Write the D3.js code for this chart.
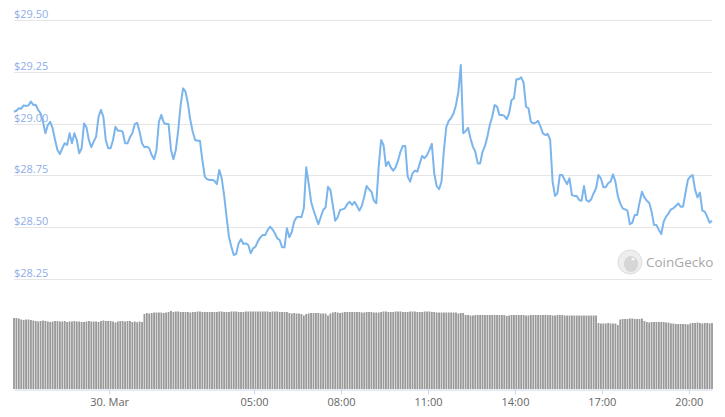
<!DOCTYPE html>
<html>
<head>
<meta charset="utf-8">
<script src="https://cdn.jsdelivr.net/npm/d3@7"></script>
<style>
  body { margin: 0; background: #fff; }
  svg text { font-family: "Open Sans", sans-serif; }
</style>
</head>
<body>
<div id="chart"></div>
<script>
// 5-minute samples
var startTime = new Date(2020, 2, 29, 20, 43);
var stepMinutes = 5;

var prices = [
  29.057, 29.062, 29.074, 29.072, 29.088, 29.085, 29.088, 29.106, 29.090, 29.091,
  29.066, 29.050, 29.009, 28.953, 28.993, 29.009, 28.977, 28.921, 28.873, 28.853,
  28.881, 28.905, 28.897, 28.953, 28.905, 28.953, 28.921, 28.857, 28.881, 29.001,
  28.982, 28.921, 28.886, 28.913, 28.937, 29.033, 29.066, 29.033, 28.921, 28.881,
  28.881, 28.921, 28.985, 28.966, 28.966, 28.961, 28.905, 28.905, 28.934, 28.953,
  28.997, 29.004, 28.961, 28.905, 28.886, 28.889, 28.881, 28.848, 28.828, 28.873,
  29.009, 29.042, 29.004, 28.998, 28.998, 28.873, 28.828, 28.873, 28.969, 29.090,
  29.170, 29.154, 29.098, 29.017, 28.961, 28.921, 28.917, 28.917, 28.824, 28.744,
  28.731, 28.728, 28.728, 28.724, 28.708, 28.776, 28.736, 28.655, 28.551, 28.454,
  28.406, 28.366, 28.371, 28.422, 28.442, 28.419, 28.422, 28.414, 28.374, 28.398,
  28.406, 28.433, 28.451, 28.462, 28.462, 28.486, 28.502, 28.490, 28.471, 28.446,
  28.438, 28.403, 28.403, 28.495, 28.451, 28.477, 28.527, 28.548, 28.551, 28.548,
  28.591, 28.789, 28.712, 28.623, 28.583, 28.548, 28.515, 28.548, 28.583, 28.596,
  28.695, 28.680, 28.607, 28.531, 28.548, 28.583, 28.586, 28.591, 28.612, 28.623,
  28.607, 28.623, 28.602, 28.580, 28.602, 28.647, 28.699, 28.683, 28.671, 28.628,
  28.615, 28.792, 28.921, 28.897, 28.795, 28.816, 28.789, 28.773, 28.789, 28.821,
  28.864, 28.892, 28.892, 28.744, 28.720, 28.760, 28.773, 28.768, 28.808, 28.844,
  28.833, 28.848, 28.873, 28.902, 28.760, 28.699, 28.683, 28.720, 28.873, 28.984,
  29.013, 29.027, 29.050, 29.090, 29.154, 29.283, 28.953, 28.964, 28.980, 28.929,
  28.889, 28.864, 28.808, 28.808, 28.864, 28.892, 28.937, 28.993, 29.033, 29.090,
  29.082, 29.042, 29.042, 29.037, 29.021, 29.050, 29.114, 29.122, 29.214, 29.214,
  29.223, 29.197, 29.082, 29.074, 29.009, 29.001, 29.004, 29.013, 28.985, 28.953,
  28.945, 28.950, 28.921, 28.720, 28.651, 28.664, 28.752, 28.752, 28.728, 28.708,
  28.736, 28.655, 28.651, 28.651, 28.631, 28.628, 28.699, 28.631, 28.623, 28.635,
  28.664, 28.688, 28.752, 28.736, 28.693, 28.693, 28.712, 28.720, 28.755, 28.720,
  28.651, 28.615, 28.591, 28.586, 28.580, 28.514, 28.522, 28.559, 28.559, 28.618,
  28.671, 28.644, 28.628, 28.618, 28.575, 28.511, 28.511, 28.486, 28.467, 28.527,
  28.551, 28.567, 28.586, 28.591, 28.602, 28.615, 28.599, 28.599, 28.664, 28.728,
  28.744, 28.752, 28.680, 28.644, 28.667, 28.580, 28.575, 28.551, 28.522, 28.531
];

var volumes = [
  71, 71, 70.5, 69.5, 69, 69.5, 69.5, 69, 68.5,
  68, 67.5, 68, 68.5, 68, 67.5, 67, 67.5, 68, 68,
  67.5, 67.5, 68, 67, 67.5, 67.5, 68, 67.5, 67.5, 67,
  67, 67.5, 68, 67.5, 67.5, 67.5, 67, 68,
  68.5, 68, 68, 68, 67.5, 66.5, 67.5, 68, 68, 67.5,
  68, 68, 67, 67.5, 66.8, 67.5, 67,
  75, 76, 75.5, 76, 76.5, 76.5, 76.5, 76.5, 76, 76.5,
  77, 78, 77, 77.5, 77.5, 77, 77, 77, 77, 76.5,
  77, 77, 77.5, 77.5, 77, 77, 77, 77, 77, 77,
  77, 77.5, 77.5, 77, 77, 77, 77.5, 77.5, 77.5, 77,
  77, 77, 77.5, 77.5,
  77.5, 77.5, 77.5, 77.5, 77.5, 77.5, 77.5, 77.5, 77, 77.5, 77.5, 77.5, 77, 77, 77, 77,
  76, 75.5, 76, 75.5, 75.5, 75, 73.5, 75, 75.5, 76,
  76, 76, 76, 75.5, 75.5, 75.5, 73.5,
  75.5, 76.5, 77, 76.5, 76, 76.5, 77, 77, 77, 77,
  77, 77, 77, 76.5, 76.5, 77, 77, 77, 76.5, 76.5, 76.5,
  77, 77.5, 77.5, 77, 77, 77, 77.5, 77.5, 77.5, 77,
  77, 77, 77.5, 77.5, 77.5, 77, 77, 77, 77.5, 77.5,
  77.5, 77, 77, 76.5, 76.5, 76.5, 76.5, 76.5, 76.5, 76.5,
  76.5, 76.5, 75.5,
  76, 76,
  74, 74, 73.5, 73.5, 74, 74, 74, 74, 74, 74,
  74, 74, 74, 74, 74, 74, 74, 73, 73.5, 74,
  74, 74, 74, 74, 74, 73.5, 73.5, 74, 74, 74,
  74, 74, 74, 74, 74, 74, 73.5, 73.5, 74, 74,
  74, 73.5, 73.5, 73.5, 73.5, 73.5, 73.5, 73.5, 73.5, 73.5,
  73.5, 73.5, 73.5, 73.5, 73.5,
  66, 65.5, 65.5, 65.5, 66, 65.5, 65.5, 65.5, 64,
  69.5, 70, 70, 70, 70.5, 70.5, 70, 70, 70, 70.5,
  68, 67, 66.5, 67, 67, 67, 67, 67, 67, 66.5, 66.5,
  65.5, 65.5, 65, 65, 65, 65, 65, 64.5,
  65.5, 66, 66, 66.5, 66, 65.5, 66, 66, 65.5, 66
];

var priceTicks = [28.25, 28.50, 28.75, 29.00, 29.25, 29.50];
var timeTickHours = [0, 5, 8, 11, 14, 17, 20];
var timeTickLabels = ["30. Mar", "05:00", "08:00", "11:00", "14:00", "17:00", "20:00"];

var svgWidth = 725;
var svgHeight = 417;

var svg = d3.select("#chart")
  .append("svg")
  .attr("width", svgWidth)
  .attr("height", svgHeight);

function timeAt(i) {
  return new Date(startTime.getTime() + i * stepMinutes * 60000);
}

var priceData = prices.map(function(p, i) { return { t: timeAt(i), p: p }; });
var volumeData = volumes.map(function(v, i) { return { t: timeAt(i), v: v }; });

var xScale = d3.scaleTime()
  .domain([timeAt(0), timeAt(prices.length - 1)])
  .range([14, 712]);

var yPrice = d3.scaleLinear()
  .domain([28.25, 29.50])
  .range([279, 20]);

var yVolume = d3.scaleLinear()
  .domain([0, 80])
  .range([389, 309]);

// gridlines + price labels
var grid = svg.append("g");
grid.selectAll("line")
  .data(priceTicks)
  .enter()
  .append("line")
  .attr("x1", 14)
  .attr("x2", 712)
  .attr("y1", d => Math.round(yPrice(d)) + 0.5)
  .attr("y2", d => Math.round(yPrice(d)) + 0.5)
  .attr("stroke", "#e6e6e6")
  .attr("stroke-width", 1);

grid.selectAll("text")
  .data(priceTicks)
  .enter()
  .append("text")
  .attr("x", 14)
  .attr("y", d => Math.round(yPrice(d)) - 2)
  .attr("fill", "#8eaee8")
  .attr("font-size", "11px")
  .text(d => "$" + d3.format(".2f")(d));

// volume bars
var step = xScale(timeAt(1)) - xScale(timeAt(0));
svg.append("g")
  .selectAll("rect")
  .data(volumeData)
  .enter()
  .append("rect")
  .attr("x", d => xScale(d.t) - step / 2 + 0.3)
  .attr("width", step - 0.6)
  .attr("y", d => yVolume(d.v))
  .attr("height", d => yVolume(0) - yVolume(d.v))
  .attr("fill", "#999999");

// x axis
var tickDates = timeTickHours.map(h => new Date(2020, 2, 30, h, 0));
var bottomAxis = d3.axisBottom(xScale)
  .tickValues(tickDates)
  .tickSizeInner(5)
  .tickSizeOuter(0)
  .tickPadding(4)
  .tickFormat((d, i) => timeTickLabels[i]);

var xAxis = svg.append("g")
  .attr("transform", "translate(0, 389.5)")
  .call(bottomAxis);
xAxis.select(".domain").attr("stroke", "#ccd6eb");
xAxis.selectAll(".tick line").attr("stroke", "#ccd6eb");
xAxis.selectAll(".tick text")
  .attr("fill", "#666666")
  .attr("font-size", "11px")
  .style("font-family", "'Open Sans', sans-serif");

// price line
var line = d3.line()
  .x(d => xScale(d.t))
  .y(d => yPrice(d.p));

svg.append("path")
  .datum(priceData)
  .attr("d", line)
  .attr("fill", "none")
  .attr("stroke", "#7cb5ec")
  .attr("stroke-width", 2)
  .attr("stroke-linejoin", "round");

// watermark
var mark = svg.append("g").attr("transform", "translate(630, 262)");
mark.append("circle").attr("r", 12).attr("fill", "#eeeeee").attr("stroke", "#dddddd");
mark.append("ellipse").attr("cx", 1).attr("cy", 2).attr("rx", 7).attr("ry", 8).attr("fill", "#d6d6d6");
mark.append("circle").attr("cx", 3).attr("cy", -3).attr("r", 1.6).attr("fill", "#f6f6f6");
svg.append("text")
  .attr("x", 646)
  .attr("y", 262)
  .attr("dy", "0.35em")
  .attr("fill", "#a8a8a8")
  .attr("font-size", "13.5px")
  .text("CoinGecko");
</script>
</body>
</html>
